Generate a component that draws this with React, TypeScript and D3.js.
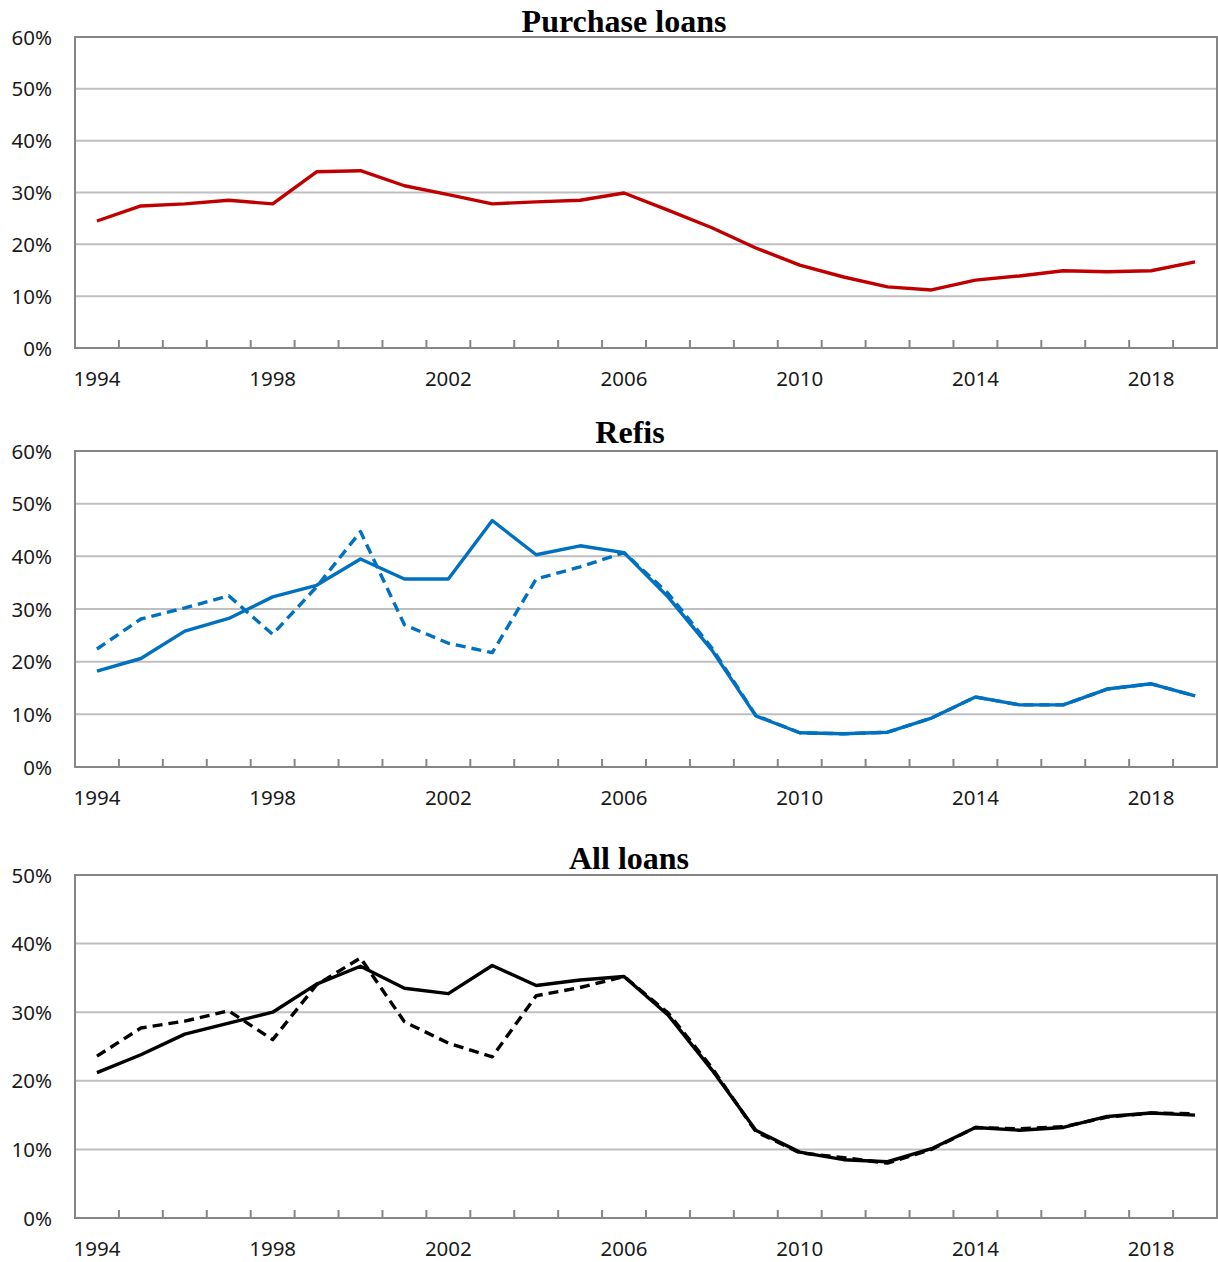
import React from 'react';
import * as d3 from 'd3';

// Categories and tick labels
const years = [
  1994, 1995, 1996, 1997, 1998, 1999, 2000, 2001, 2002, 2003, 2004, 2005, 2006,
  2007, 2008, 2009, 2010, 2011, 2012, 2013, 2014, 2015, 2016, 2017, 2018, 2019,
];
const yearLabels = [1994, 1998, 2002, 2006, 2010, 2014, 2018];

// Purchase loans (%)
const purchase = [
  24.5, 27.4, 27.8, 28.5, 27.8, 34.0, 34.2, 31.3, 29.6, 27.8, 28.2, 28.5, 29.9,
  26.6, 23.2, 19.3, 16.0, 13.7, 11.8, 11.2, 13.1, 13.9, 14.9, 14.7, 14.9, 16.6,
];

// Refis (%)
const refiSolid = [
  18.2, 20.6, 25.8, 28.2, 32.3, 34.5, 39.5, 35.7, 35.7, 46.8, 40.3, 42.0, 40.7,
  32.3, 22.2, 9.7, 6.5, 6.3, 6.6, 9.3, 13.3, 11.8, 11.8, 14.8, 15.8, 13.5,
];
const refiDashed = [
  22.4, 28.1, 30.2, 32.5, 25.2, 34.2, 44.7, 27.0, 23.5, 21.7, 35.7, 38.0, 40.7,
  33.0, 22.6, 9.8, 6.5, 6.3, 6.6, 9.3, 13.3, 11.8, 11.8, 14.8, 15.8, 13.5,
];

// All loans (%)
const allSolid = [
  21.2, 23.8, 26.8, 28.4, 30.0, 34.1, 36.7, 33.5, 32.7, 36.8, 33.9, 34.7, 35.2,
  29.6, 21.6, 12.8, 9.6, 8.5, 8.2, 10.1, 13.2, 12.8, 13.2, 14.8, 15.3, 15.0,
];
const allDashed = [
  23.6, 27.7, 28.7, 30.2, 26.0, 34.0, 37.9, 28.6, 25.5, 23.5, 32.4, 33.6, 35.2,
  29.9, 21.9, 12.6, 9.5, 8.8, 8.0, 10.0, 13.2, 13.0, 13.3, 14.7, 15.3, 15.2,
];

const plotLeft = 75;
const plotRight = 1217;
const axisColor = '#868686';
const gridColor = '#bfbfbf';
const labelFont = '"Noto Sans", "Open Sans", sans-serif';
const labelSize = 20.5;

type Series = { values: number[]; color: string; dashed?: boolean };

type PanelProps = {
  title: string;
  titleX: number;
  titleY: number;
  top: number;
  bottom: number;
  yMax: number;
  series: Series[];
};

const x = d3.scaleBand<number>()
  .domain(years)
  .range([plotLeft, plotRight]);

const Panel: React.FC<PanelProps> = ({
  title, titleX, titleY, top, bottom, yMax, series,
}) => {
  const y = d3.scaleLinear().domain([0, yMax]).range([bottom, top]);
  const yTicks = d3.range(0, yMax + 1, 10);
  const line = d3.line<number>()
    .x((_, i) => (x(years[i]) ?? 0) + x.bandwidth() / 2)
    .y((d) => y(d));

  // tick marks sit on the category boundaries
  const boundaries = years.slice(1).map((yr) => x(yr) ?? 0);

  return (
    <g>
      {yTicks.map((t) => (
        <g key={t}>
          {t > 0 && t < yMax && (
            <line x1={plotLeft} x2={plotRight} y1={y(t)} y2={y(t)} stroke={gridColor} strokeWidth={2} />
          )}
          <text
            x={52}
            y={y(t) + 7.5}
            textAnchor="end"
            fontFamily={labelFont}
            fontSize={labelSize}
            fill="#1a1a1a"
          >
            {`${t}%`}
          </text>
        </g>
      ))}
      {/* plot frame */}
      <rect
        x={plotLeft}
        y={top}
        width={plotRight - plotLeft}
        height={bottom - top}
        fill="none"
        stroke={axisColor}
        strokeWidth={2}
      />
      {boundaries.map((bx) => (
        <line key={bx} x1={bx} x2={bx} y1={bottom} y2={bottom - 8} stroke={axisColor} strokeWidth={2} />
      ))}
      {yearLabels.map((yr) => (
        <text
          key={yr}
          x={(x(yr) ?? 0) + x.bandwidth() / 2}
          y={bottom + 38}
          textAnchor="middle"
          fontFamily={labelFont}
          fontSize={labelSize}
          fill="#1a1a1a"
        >
          {yr}
        </text>
      ))}
      {series.map((s, i) => (
        <path
          key={i}
          d={line(s.values) ?? ''}
          fill="none"
          stroke={s.color}
          strokeWidth={3.4}
          strokeDasharray={s.dashed ? '10,6' : undefined}
          strokeLinejoin="round"
        />
      ))}
      <text
        x={titleX}
        y={titleY}
        textAnchor="middle"
        fontFamily='"Liberation Serif", "Times New Roman", serif'
        fontWeight="bold"
        fontSize={32}
        fill="#000"
      >
        {title}
      </text>
    </g>
  );
};

const App: React.FC = () => (
  <svg
    width={1218}
    height={1262}
    style={{ position: 'absolute', left: 0, top: 0, background: '#fff' }}
  >
    <rect width={1218} height={1262} fill="#fff" />
    <Panel
      title="Purchase loans"
      titleX={624}
      titleY={32}
      top={37}
      bottom={348}
      yMax={60}
      series={[{ values: purchase, color: '#c00000' }]}
    />
    <Panel
      title="Refis"
      titleX={630}
      titleY={443}
      top={451}
      bottom={767}
      yMax={60}
      series={[
        { values: refiDashed, color: '#0070c0', dashed: true },
        { values: refiSolid, color: '#0070c0' },
      ]}
    />
    <Panel
      title="All loans"
      titleX={629}
      titleY={869}
      top={875}
      bottom={1218}
      yMax={50}
      series={[
        { values: allDashed, color: '#000000', dashed: true },
        { values: allSolid, color: '#000000' },
      ]}
    />
  </svg>
);

export default App;
